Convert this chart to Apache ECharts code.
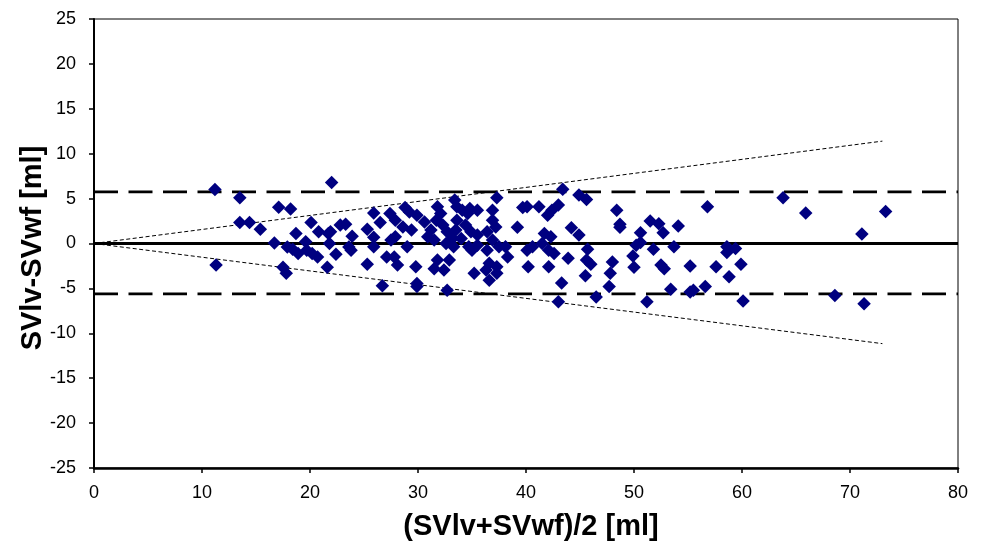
<!DOCTYPE html>
<html><head><meta charset="utf-8">
<script src="https://cdn.jsdelivr.net/npm/echarts@6/dist/echarts.min.js"></script>
<style>html,body{margin:0;padding:0;background:#fff}#c{width:986px;height:543px}</style>
</head><body><div id="c"></div>
<script>
// Bland-Altman: mean (x) and difference (y) for each measurement
const meanSV = [
 11.2,13.5,13.5,14.4,15.4,11.3,17.1,18.2,16.7,18.7,17.9,18.4,18.9,19.6,19.7,20.1,20.8,21.7,21.9,21.8,20.7,20.2,22.4,21.6,17.5,17.8,22.0,22.8,
 23.3,23.9,23.6,23.8,25.9,26.5,25.3,25.9,25.9,25.3,26.7,27.4,27.9,28.8,29.2,29.9,28.6,29.4,27.9,27.5,29.0,27.1,27.8,28.1,29.8,29.9,29.9,
 30.6,31.2,30.9,31.8,32.1,31.7,32.3,32.7,31.5,32.6,31.8,32.9,31.5,32.4,32.7,33.4,33.6,34.1,34.6,34.8,35.5,33.6,34.4,33.5,33.2,34.0,34.9,35.5,
 33.3,34.7,35.5,35.0,35.2,36.9,37.3,36.9,37.2,36.4,36.9,36.4,37.5,38.1,38.3,36.6,37.3,36.3,36.6,37.3,39.2,39.7,40.1,41.2,40.6,40.1,40.2,
 42.0,42.4,43.0,41.7,42.3,41.5,42.1,42.6,42.1,43.9,44.2,43.3,43.0,43.4,44.9,45.6,
 44.9,45.7,45.6,46.0,45.5,46.5,48.4,48.7,48.7,48.0,47.8,47.7,50.6,51.5,52.3,52.7,54.1,50.2,50.6,49.9,50.0,51.8,52.5,52.8,53.7,53.4,51.2,
 56.8,55.2,55.2,55.5,56.6,57.6,58.6,58.6,59.4,59.9,58.8,60.1,63.8,65.9,73.3,71.1,68.6,71.3
];
const diffSV = [
 6.0,5.1,2.35,2.35,1.6,-2.4,4.05,3.85,0.05,1.1,-0.4,-0.65,-1.1,0.2,-0.75,2.35,1.3,1.1,1.3,0.0,-1.5,-1.1,-1.2,-2.65,-2.65,-3.3,6.8,2.05,
 2.15,0.8,-0.4,-0.75,3.4,2.35,1.6,0.7,-0.35,-2.3,-4.7,3.35,2.6,4.0,3.5,3.15,1.85,1.5,0.75,0.4,-0.35,-1.5,-1.5,-2.4,-2.6,-4.45,-4.8,
 2.4,1.5,0.75,4.1,3.35,2.6,2.05,1.3,0.4,0.0,-1.85,-1.85,-2.8,-2.95,-5.2,4.85,4.1,3.7,3.35,3.9,3.7,2.6,2.05,1.5,0.55,0.55,1.3,0.95,
 -0.35,-0.35,-0.2,-0.75,-3.3,3.7,5.1,2.6,1.85,1.3,0.4,-0.75,-0.35,-0.35,-1.5,-2.2,-2.6,-2.95,-4.1,-3.3,1.8,4.0,4.1,4.1,-0.35,-0.75,-2.6,
 3.15,3.7,4.3,1.1,0.75,0.0,-0.75,-1.1,-2.6,-1.65,1.75,-4.4,-6.5,6.05,5.4,4.9,
 0.95,-0.65,-1.85,-2.3,-3.6,-5.95,3.7,2.15,1.8,-2.05,-3.3,-4.8,1.2,2.5,2.2,1.2,1.95,-0.2,0.1,-1.4,-2.65,-0.65,-2.4,-2.8,-0.35,-5.1,-6.5,
 4.1,-2.5,-5.4,-5.2,-4.8,-2.6,-0.35,-1.0,-0.55,-2.3,-3.7,-6.4,5.1,3.4,3.55,1.05,-5.8,-6.7
];
// Reference lines
const lineRange = [0, 80];
const meanDiff = 0;
const upperLoA = 5.75;
const lowerLoA = -5.6;
const propRange = [0, 73];
const propUpper = [0, 11.4];
const propLower = [0, -11.15];
// Axes
const xMin = 0, xMax = 80, xStep = 10;
const yMin = -25, yMax = 25, yStep = 5;
const xTitle = '(SVlv+SVwf)/2 [ml]';
const yTitle = 'SVlv-SVwf [ml]';

const points = meanSV.map((x, i) => [x, diffSV[i]]);
const hLine = v => lineRange.map(x => [x, v]);
const propLine = ys => propRange.map((x, i) => [x, ys[i]]);

const font = 'Liberation Sans, Arial, sans-serif';
const chart = echarts.init(document.getElementById('c'), null, {renderer: 'canvas'});
const lineSeries = (data, width, dash) => ({
  type: 'line', data, showSymbol: false, symbol: 'none', silent: true, z: 1,
  lineStyle: {color: '#000', width, type: dash}, animation: false
});
chart.setOption({
  animation: false,
  backgroundColor: '#fff',
  grid: {left: 94, right: 28, top: 19, bottom: 75, show: true, borderColor: '#000', borderWidth: 1, backgroundColor: 'transparent'},
  xAxis: {
    type: 'value', min: xMin, max: xMax, interval: xStep,
    axisLine: {show: true, onZero: false, lineStyle: {color: '#000', width: 2.5}},
    axisTick: {show: true, inside: false, length: 5, lineStyle: {color: '#000', width: 1.5}},
    axisLabel: {color: '#000', fontSize: 18, fontFamily: font, margin: 16},
    splitLine: {show: false}
  },
  yAxis: {
    type: 'value', min: yMin, max: yMax, interval: yStep,
    axisLine: {show: true, onZero: false, lineStyle: {color: '#000', width: 2}},
    axisTick: {show: true, inside: false, length: 5, lineStyle: {color: '#000', width: 1.5}},
    axisLabel: {color: '#000', fontSize: 18, fontFamily: font, margin: 18},
    splitLine: {show: false}
  },
  graphic: [
    {type: 'text', x: 531, y: 527, style: {text: xTitle, font: 'bold 29px ' + font, fill: '#000', textAlign: 'center', textVerticalAlign: 'middle'}},
    {type: 'text', x: 33, y: 248, rotation: Math.PI / 2, style: {text: yTitle, font: 'bold 29px ' + font, fill: '#000', textAlign: 'center', textVerticalAlign: 'middle'}}
  ],
  series: [
    lineSeries(hLine(meanDiff), 2.8, 'solid'),
    lineSeries(hLine(upperLoA), 2.8, [24, 10.5]),
    lineSeries(hLine(lowerLoA), 2.8, [24, 10.5]),
    lineSeries(propLine(propUpper), 1, [4, 2.5]),
    lineSeries(propLine(propLower), 1, [4, 2.5]),
    {
      type: 'scatter', data: points, symbol: 'diamond', symbolSize: 13.5, z: 5,
      itemStyle: {color: '#000080', opacity: 1}
    }
  ]
});
</script>
</body></html>
